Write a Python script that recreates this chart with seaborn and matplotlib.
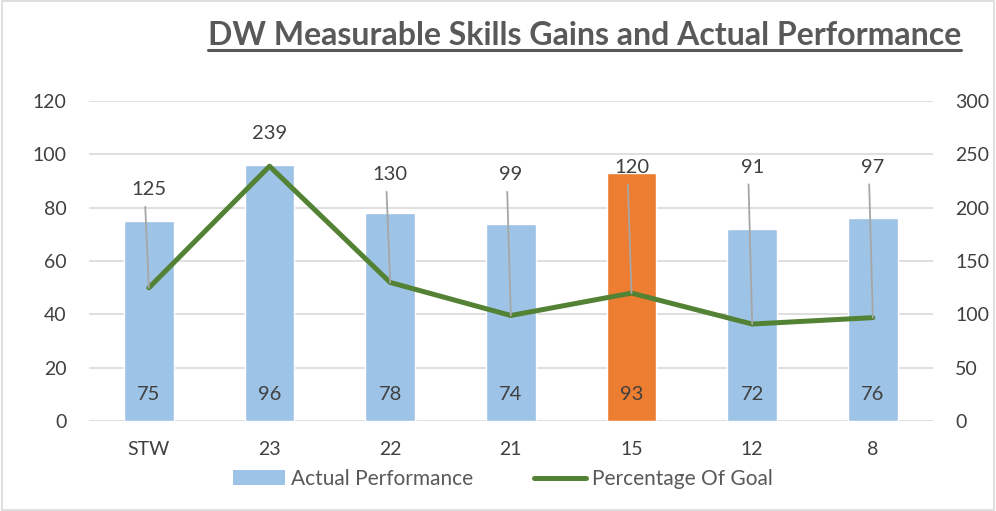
import seaborn as sns
import pandas as pd
import matplotlib.pyplot as plt
from matplotlib.lines import Line2D
from matplotlib.patches import Patch

# data
categories = ['STW', '23', '22', '21', '15', '12', '8']
actual_performance = [75, 96, 78, 74, 93, 72, 76]
pct_of_goal = [125, 239, 130, 99, 120, 91, 97]
highlight = '15'

# where the line labels sit (right-axis units)
label_heights = [217, 270, 231, 231, 238, 238, 238]

blue = '#9DC3E6'
orange = '#ED7D31'
green = '#548235'
txt = '#404040'

df = pd.DataFrame({'cat': categories, 'actual': actual_performance, 'pct': pct_of_goal})
df['grp'] = ['hi' if c == highlight else 'lo' for c in categories]

sns.set_style('white')
plt.rcParams['font.family'] = ['Lato', 'DejaVu Sans']

fig = plt.figure(figsize=(9.96, 5.11), dpi=100)
ax = fig.add_axes([0.0889, 0.176, 0.848, 0.626])

sns.barplot(data=df, x='cat', y='actual', hue='grp', palette={'lo': blue, 'hi': orange},
            width=0.41, legend=False, dodge=False, ax=ax, saturation=1)
ax.set_ylim(0, 120)
ax.set_yticks(range(0, 121, 20))
ax.grid(axis='y', color='#D9D9D9', linewidth=1.2)
ax.set_axisbelow(True)
ax.set_xlabel('')
ax.set_ylabel('')
for s in ax.spines.values():
    s.set_visible(False)
ax.tick_params(axis='y', length=0, labelsize=14, labelcolor=txt, pad=16)
ax.tick_params(axis='x', length=0, labelsize=14, labelcolor=txt, pad=14)

# bar values near the bottom
for i, v in enumerate(actual_performance):
    ax.text(i, 10, str(v), ha='center', va='center', fontsize=14.5, color=txt)

ax2 = ax.twinx()
sns.pointplot(data=df, x='cat', y='pct', color=green, errorbar=None, markersize=0,
              linewidth=3.6, ax=ax2)
ax2.set_ylim(0, 300)
ax2.set_yticks(range(0, 301, 50))
ax2.set_ylabel('')
ax2.set_xlabel('')
for s in ax2.spines.values():
    s.set_visible(False)
ax2.tick_params(axis='y', length=0, labelsize=14, labelcolor=txt, pad=16)
ax2.set_xlim(-0.5, len(categories) - 0.5)

# line labels with leader lines
for i, (v, h) in enumerate(zip(pct_of_goal, label_heights)):
    ax2.text(i, h, str(v), ha='center', va='center', fontsize=14.5, color=txt)
    if h - v > 40:
        ax2.annotate('', xy=(i, v), xytext=(i - 0.03, h - 16),
                     arrowprops=dict(arrowstyle='-', color='#A6A6A6', lw=1.3,
                                     shrinkA=0, shrinkB=0))

# title with underline
title = fig.text(0.587, 0.93, 'DW Measurable Skills Gains and Actual Performance',
                 ha='center', va='center', fontsize=23, fontweight='bold', color='#595959')
fig.canvas.draw()
bb = title.get_window_extent().transformed(fig.transFigure.inverted())
fig.add_artist(Line2D([bb.x0, bb.x1], [0.902, 0.902], color='#595959', lw=2.2))

handles = [Patch(facecolor=blue, edgecolor='none'),
           Line2D([0], [0], color=green, lw=3.6)]
fig.legend(handles, ['Actual Performance', 'Percentage Of Goal'], loc='center',
           bbox_to_anchor=(0.505, 0.063), ncol=2, frameon=False, fontsize=15,
           labelcolor='#595959', handlelength=2.5, handletextpad=0.3, columnspacing=2.9)

# thin chart border
fig.add_artist(plt.Rectangle((0.002, 0.002), 0.996, 0.996, fill=False,
                             edgecolor='#D9D9D9', lw=1.2, transform=fig.transFigure))

fig.savefig('out.png', dpi=100)
